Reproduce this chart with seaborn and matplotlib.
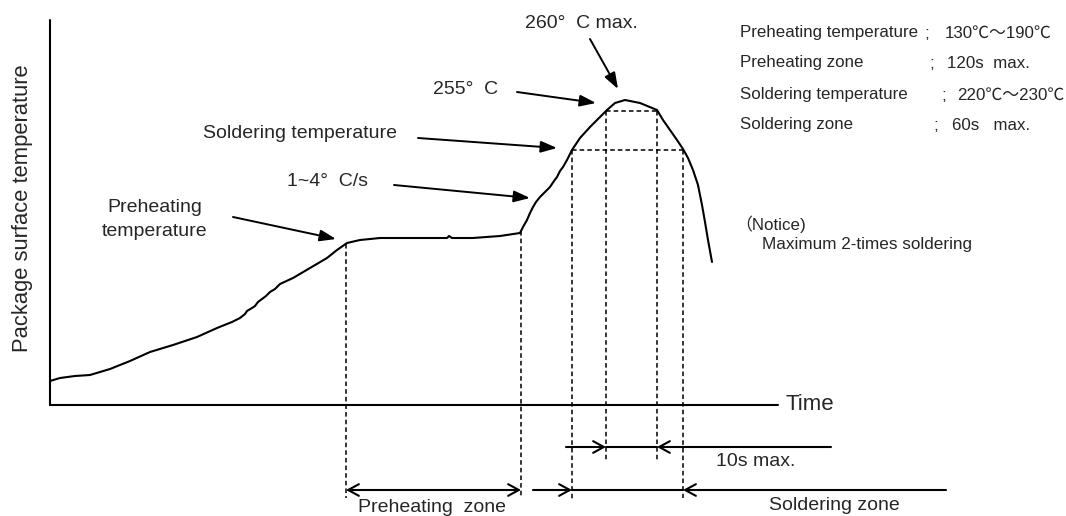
import numpy as np
import pandas as pd
import matplotlib
matplotlib.use("Agg")
import matplotlib.pyplot as plt
import seaborn as sns

# ---------------- data (in picture units) ----------------
curve_x = [50, 60, 75, 90, 110, 130, 150, 173, 197, 217, 232, 240, 245, 247, 252, 255, 258,
           262, 266, 270, 275, 280, 293, 310, 327, 337, 347, 360, 380, 400, 420, 440, 447,
           449, 452, 473, 500, 520, 523, 527, 530, 533, 536, 540, 545, 550, 554, 557, 560,
           563, 567, 572, 580, 590, 600, 607, 615, 625, 640, 657, 663, 670, 677, 683, 688,
           693, 698, 702, 705, 708, 712]
curve_y = [381, 378, 376, 375, 369, 361, 352, 345, 337, 328, 322, 318, 314, 311, 308, 306, 302,
           299, 296, 292, 289, 284, 278, 268, 258, 250, 243, 240, 238, 238, 238, 238, 238,
           236, 238, 238, 236, 233, 227, 220, 213, 207, 202, 197, 192, 187, 181, 177, 171,
           167, 160, 150, 138, 127, 117, 110, 103, 100, 103, 110, 120, 130, 140, 149, 158,
           170, 185, 205, 222, 240, 262]

preheat_zone = [346, 521]      # start / end of preheating zone
solder_zone = [572, 683]       # start / end of soldering zone (220-230 C level)
peak_zone = [606, 657]         # 10 s max window (255 C level)
solder_level = 150
peak_level = 111

spec_labels = ["Preheating temperature", "Preheating zone",
               "Soldering temperature", "Soldering zone"]
spec_values = ["130℃～190℃", "120s  max.", "220℃～230℃", "60s   max."]

# ---------------- figure ----------------
sns.set_theme(style="white")
FONT = ["Liberation Sans", "Noto Sans CJK JP", "DejaVu Sans"]
plt.rcParams["font.family"] = FONT

fig = plt.figure(figsize=(10.66, 5.16), dpi=100)
ax = fig.add_axes([0, 0, 1, 1])
ax.set_xlim(0, 1066)
ax.set_ylim(516, 0)
ax.axis("off")

df = pd.DataFrame({"t": curve_x, "T": curve_y})
sns.lineplot(data=df, x="t", y="T", sort=False, estimator=None, color="black", lw=1.5, ax=ax)

# axes of the diagram
ax.plot([50, 50], [20, 405], color="black", lw=1.5)
ax.plot([50, 778], [405, 405], color="black", lw=1.5)
ax.text(785, 405, "Time", fontsize=16, va="center", ha="left")
ax.text(23, 208, "Package surface temperature", fontsize=15.8, rotation=90,
        va="center", ha="center")

dash = dict(color="black", lw=1.1, linestyle=(0, (3, 2)))

def curve_y_at(x, left=True):
    xs = np.array(curve_x, float)
    ys = np.array(curve_y, float)
    ipk = int(np.argmin(ys))
    if left:
        return float(np.interp(x, xs[:ipk + 1], ys[:ipk + 1]))
    return float(np.interp(x, xs[ipk:], ys[ipk:]))

for x in preheat_zone:
    ax.plot([x, x], [curve_y_at(x), 498], **dash)
ax.plot([solder_zone[0]] * 2, [solder_level, 500], **dash)
ax.plot([solder_zone[1]] * 2, [solder_level, 498], **dash)
ax.plot([peak_zone[0]] * 2, [peak_level, 461], **dash)
ax.plot([peak_zone[1]] * 2, [peak_level, 461], **dash)
ax.plot(solder_zone, [solder_level] * 2, **dash)
ax.plot(peak_zone, [peak_level] * 2, **dash)

# dimension arrows (open heads)
open_head = dict(arrowstyle="->,head_length=0.55,head_width=0.3", color="black",
                 lw=1.5, shrinkA=0, shrinkB=0, mutation_scale=14)
both_head = dict(arrowstyle="<->,head_length=0.55,head_width=0.3", color="black",
                 lw=1.5, shrinkA=0, shrinkB=0, mutation_scale=14)
ax.annotate("", xy=(preheat_zone[1], 490), xytext=(preheat_zone[0], 490), arrowprops=both_head)
ax.annotate("", xy=(solder_zone[0], 490), xytext=(533, 490), arrowprops=open_head)
ax.plot(solder_zone, [490, 490], color="black", lw=1.5)
ax.annotate("", xy=(solder_zone[1], 490), xytext=(946, 490), arrowprops=open_head)
ax.annotate("", xy=(peak_zone[0], 447), xytext=(566, 447), arrowprops=open_head)
ax.plot(peak_zone, [447, 447], color="black", lw=1.5)
ax.annotate("", xy=(peak_zone[1], 447), xytext=(831, 447), arrowprops=open_head)

ax.text(716, 462, "10s max.", fontsize=14, va="center", ha="left")
ax.text(358, 508, "Preheating  zone", fontsize=14, va="center", ha="left")
ax.text(769, 506, "Soldering zone", fontsize=14, va="center", ha="left")

# callout arrows (filled heads)
fill_head = dict(arrowstyle="-|>,head_length=0.7,head_width=0.25", color="black", lw=1.4,
                 shrinkA=0, shrinkB=0, mutation_scale=14)
ax.text(525, 23, "260°  C max.", fontsize=14, va="center", ha="left")
ax.annotate("", xy=(618, 89), xytext=(590, 39), arrowprops=fill_head)
ax.text(433, 89, "255°  C", fontsize=14, va="center", ha="left")
ax.annotate("", xy=(596, 103), xytext=(517, 92), arrowprops=fill_head)
ax.text(397, 133, "Soldering temperature", fontsize=14, va="center", ha="right")
ax.annotate("", xy=(557, 148), xytext=(418, 138), arrowprops=fill_head)
ax.text(287, 182, "1~4°  C/s", fontsize=14, va="center", ha="left")
ax.annotate("", xy=(530, 198), xytext=(394, 185), arrowprops=fill_head)
ax.text(155, 208, "Preheating", fontsize=14, va="center", ha="center")
ax.text(155, 232, "temperature", fontsize=14, va="center", ha="center")
ax.annotate("", xy=(336, 239), xytext=(233, 217), arrowprops=fill_head)

# specification block
rows_y = [33, 63, 95, 125]
semi_x = [924, 929, 941, 933]
val_x = [945, 947, 957, 952]
for lab, val, y, sx, vx in zip(spec_labels, spec_values, rows_y, semi_x, val_x):
    ax.text(740, y, lab, fontsize=12.2, va="center", ha="left")
    ax.text(sx, y, ";", fontsize=12.2, va="center", ha="left")
    ax.text(vx, y, val, fontsize=12.2, va="center", ha="left")

ax.text(735, 224, "（Notice)", fontsize=12.2, va="center", ha="left")
ax.text(762, 245, "Maximum 2-times soldering", fontsize=12.3, va="center", ha="left")

fig.savefig("out.png", dpi=100, facecolor="white")
